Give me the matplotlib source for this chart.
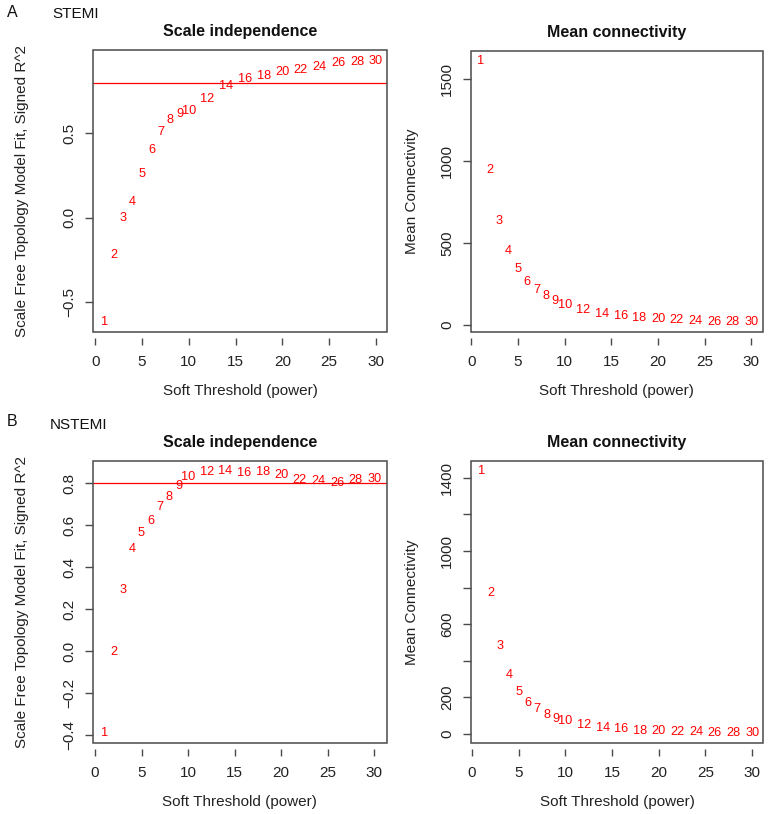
import matplotlib
matplotlib.use('Agg')
import matplotlib.pyplot as plt
from matplotlib.patches import Rectangle

plt.rcParams['font.family'] = ['Liberation Sans', 'DejaVu Sans']

# ---------------- data ----------------
powers = [1, 2, 3, 4, 5, 6, 7, 8, 9, 10, 12, 14, 16, 18, 20, 22, 24, 26, 28, 30]

stemi_r2 = [-0.616, -0.221, 0.0, 0.094, 0.26, 0.40, 0.506, 0.577, 0.614, 0.633,
            0.703, 0.783, 0.825, 0.841, 0.866, 0.878, 0.896, 0.916, 0.923, 0.931]
stemi_k = [1612, 946, 635, 454, 344, 264, 214, 177, 147, 124,
           92, 69, 55, 45, 35, 29, 24, 20, 18, 16]

nstemi_r2 = [-0.388, -0.003, 0.292, 0.486, 0.562, 0.619, 0.689, 0.736, 0.789, 0.832,
             0.852, 0.857, 0.848, 0.854, 0.841, 0.816, 0.812, 0.800, 0.816, 0.822]
nstemi_k = [1435, 772, 481, 322, 231, 171, 135, 105, 84, 69,
            49, 35, 26, 18, 15, 11, 9, 7, 7, 6]

cutoff = 0.8

xticks = [0, 5, 10, 15, 20, 25, 30]

a_r2_yticks = [-0.5, 0.0, 0.5]
a_r2_ylabels = ['\u22120.5', '0.0', '0.5']
a_k_yticks = [0, 500, 1000, 1500]
a_k_ylabels = ['0', '500', '1000', '1500']
b_r2_yticks = [-0.4, -0.2, 0.0, 0.2, 0.4, 0.6, 0.8]
b_r2_ylabels = ['\u22120.4', '\u22120.2', '0.0', '0.2', '0.4', '0.6', '0.8']
b_k_yticks = [0, 200, 400, 600, 800, 1000, 1200, 1400]
b_k_ylabels = ['0', '200', '', '600', '', '1000', '', '1400']

title_r2 = 'Scale independence'
title_k = 'Mean connectivity'
xlabel = 'Soft Threshold (power)'
ylabel_r2 = 'Scale Free Topology Model Fit, Signed R^2'
ylabel_k = 'Mean Connectivity'

# ---------------- layout ----------------
W, H = 770, 814
fig = plt.figure(figsize=(W / 100, H / 100), dpi=100)
fig.patch.set_facecolor('white')

BOX = '#4a4a4a'


def make_ax(l, t, r, b):
    return fig.add_axes([l / W, 1 - b / H, (r - l) / W, (b - t) / H])


def style(ax, xlim, ylim, yticks, ylabels, title, ylabel, ylab_px):
    ax.set_xlim(xlim)
    ax.set_ylim(ylim)
    ax.set_xticks(xticks)
    ax.set_xticklabels([str(t) for t in xticks])
    ax.set_yticks(yticks)
    ax.set_yticklabels(ylabels, rotation=90, va='center')
    for s in ax.spines.values():
        s.set_color('none')
    ax.spines['bottom'].set_position(('outward', 4))
    ax.add_patch(Rectangle((0, 0), 1, 1, transform=ax.transAxes, fill=False,
                           ec=BOX, lw=1.1, clip_on=False, zorder=5))
    ax.tick_params(axis='x', direction='out', length=5, width=1, color=BOX,
                   pad=7, labelsize=11, labelcolor='#222222')
    ax.tick_params(axis='y', direction='out', length=6, width=1, color=BOX,
                   pad=6, labelsize=11, labelcolor='#222222')
    ax.set_title(title, fontsize=11.5, fontweight='bold', pad=10, color='#111111')
    ax.set_xlabel(xlabel, fontsize=11, color='#222222')
    ax.set_ylabel(ylabel, fontsize=11, color='#222222')
    bb = ax.get_position()
    h_px = bb.height * H
    w_px = bb.width * W
    ax.xaxis.set_label_coords(0.5, -52 / h_px)
    ax.yaxis.set_label_coords(-ylab_px / w_px, 0.5)


def draw_labels(ax, xs, ys):
    for x, y in zip(xs, ys):
        ax.text(x, y, str(x), color='red', ha='center', va='center',
                fontsize=9.2)


# Panel A
ax1 = make_ax(93, 50, 387, 332.3)
style(ax1, (-0.25, 31.2), (-0.677, 0.994), a_r2_yticks, a_r2_ylabels,
      title_r2, ylabel_r2, 64)
ax1.axhline(cutoff, color='red', lw=0.9, zorder=1)
draw_labels(ax1, powers, stemi_r2)

ax2 = make_ax(470.6, 50.7, 763, 332.3)
style(ax2, (-0.08, 31.25), (-45, 1675), a_k_yticks, a_k_ylabels,
      title_k, ylabel_k, 52)
draw_labels(ax2, powers, stemi_k)

# Panel B
ax3 = make_ax(93, 461, 386.5, 743.3)
style(ax3, (-0.21, 31.3), (-0.438, 0.906), b_r2_yticks, b_r2_ylabels,
      title_r2, ylabel_r2, 64)
ax3.axhline(cutoff, color='red', lw=0.9, zorder=1)
draw_labels(ax3, powers, nstemi_r2)

ax4 = make_ax(470.7, 461, 763.3, 743.3)
style(ax4, (-0.14, 31.2), (-51, 1492), b_k_yticks, b_k_ylabels,
      title_k, ylabel_k, 52)
draw_labels(ax4, powers, nstemi_k)

# Panel letters and group names
fig.text(7 / W, 1 - 12.5 / H, 'A', fontsize=11.5, ha='left', va='center', color='#111111')
fig.text(52 / W, 1 - 13.5 / H, 'STEMI', fontsize=11, ha='left', va='center', color='#111111')
fig.text(7 / W, 1 - 422 / H, 'B', fontsize=11.5, ha='left', va='center', color='#111111')
fig.text(50 / W, 1 - 425 / H, 'NSTEMI', fontsize=11, ha='left', va='center', color='#111111')

fig.savefig('out.png', dpi=100, facecolor='white')
